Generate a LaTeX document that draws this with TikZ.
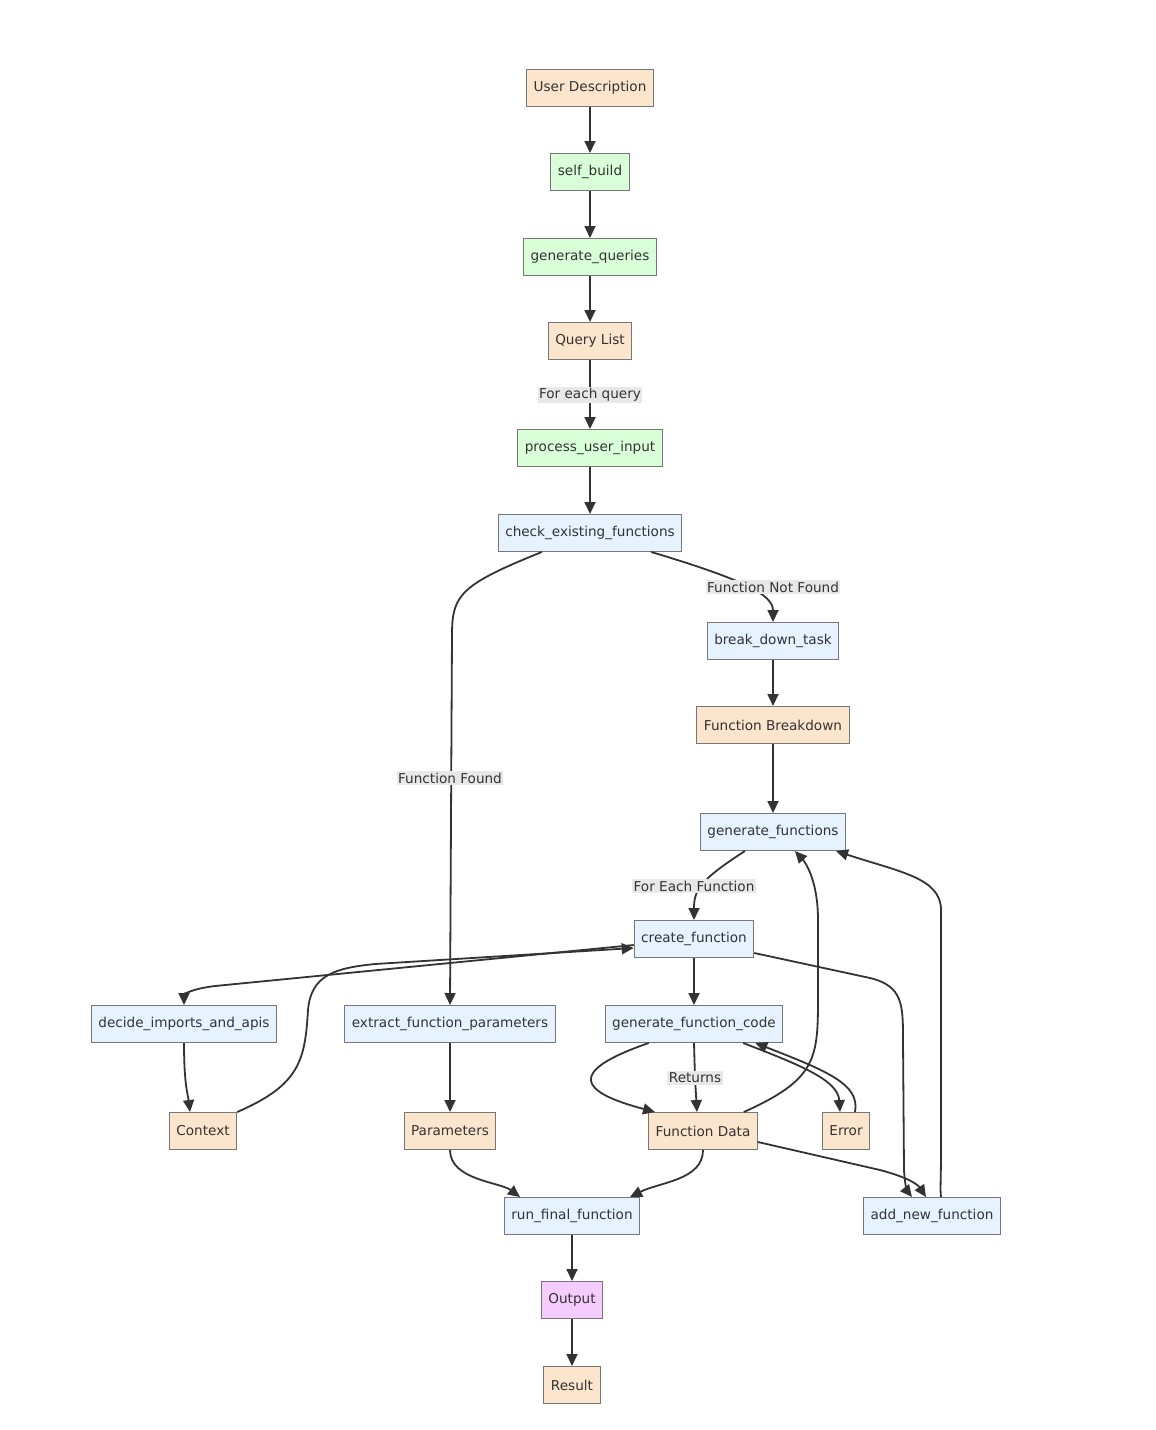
\documentclass[tikz,border=0pt]{standalone}
\usepackage{fontspec}
\setmainfont{DejaVu Sans}
\usetikzlibrary{arrows.meta}
\definecolor{peachfill}{HTML}{FCE5CD}
\definecolor{greenfill}{HTML}{D9FFD9}
\definecolor{bluefill}{HTML}{E6F2FF}
\definecolor{pinkfill}{HTML}{F6CCFF}
\definecolor{boxline}{HTML}{777777}
\definecolor{edgeline}{HTML}{333333}
\definecolor{labelfill}{HTML}{E8E8E8}
\tikzset{
  box/.style={draw=boxline, line width=1pt, rectangle, minimum height=37pt,
    inner xsep=7pt, text=edgeline, font=\fontsize{13.6}{16}\selectfont},
  peach/.style={box, fill=peachfill},
  green/.style={box, fill=greenfill},
  blue/.style={box, fill=bluefill},
  pink/.style={box, fill=pinkfill},
  edgelabel/.style={fill=labelfill, inner sep=1.5pt, text=edgeline,
    font=\fontsize{13.6}{16}\selectfont},
  arr/.style={draw=edgeline, line width=1.8pt,
    -{Triangle[length=12pt,width=11pt]}},
}
\begin{document}
\begin{tikzpicture}[x=1pt, y=1pt]
  \useasboundingbox (0,0) rectangle (1156,-1430);
  % top chain
  \node[peach] (ud) at (590,-88) {User Description};
  \node[green] (sb) at (590,-172) {self\_build};
  \node[green] (gq) at (590,-257) {generate\_queries};
  \node[peach] (ql) at (590,-341) {Query List};
  \node[green] (pui) at (590,-448) {process\_user\_input};
  \node[blue] (cef) at (590,-533) {check\_existing\_functions};
  % function not found branch
  \node[blue] (bdt) at (773,-641) {break\_down\_task};
  \node[peach] (fb) at (773,-725) {Function Breakdown};
  \node[blue] (gf) at (773,-832) {generate\_functions};
  \node[blue] (cf) at (694,-939) {create\_function};
  \node[blue] (dia) at (184,-1024) {decide\_imports\_and\_apis};
  \node[blue] (efp) at (450,-1024) {extract\_function\_parameters};
  \node[blue] (gfc) at (694,-1024) {generate\_function\_code};
  \node[peach] (ctx) at (203,-1131) {Context};
  \node[peach] (par) at (450,-1131) {Parameters};
  \node[peach] (fd) at (703,-1131) {Function Data};
  \node[peach] (err) at (846,-1131) {Error};
  \node[blue] (rff) at (572,-1216) {run\_final\_function};
  \node[blue] (anf) at (932,-1216) {add\_new\_function};
  \node[pink] (out) at (572,-1300) {Output};
  \node[peach] (res) at (572,-1385) {Result};
  \coordinate (ret) at (695,-1078);

  \draw[arr] (ud) -- (sb);
  \draw[arr] (sb) -- (gq);
  \draw[arr] (gq) -- (ql);
  \draw[arr] (ql) -- (pui);
  \draw[arr] (pui) -- (cef);
  \draw[arr] (cef.south west) ++(44,0) .. controls (460,-585) and (452,-595) .. (452,-635) -- (efp.north -| 450,0);
  \draw[arr] (cef.south east) ++(-31,0) .. controls (745,-580) and (773,-595) .. (bdt.north);
  \draw[arr] (bdt) -- (fb);
  \draw[arr] (fb) -- (gf);
  \draw[arr] (gf.south west) ++(45,0) .. controls (700,-880) and (694,-890) .. (cf.north);
  \draw[arr] (cf) -- (gfc);
  \draw[arr] (cf.west) ++(0,-6) -- (215,-986) .. controls (190,-989) and (184,-995) .. (dia.north);
  \draw[arr] (ctx.north east) .. controls (300,-1085) and (305,-1060) .. (308,-1010)
    .. controls (311,-975) and (335,-968) .. (375,-964) -- ([yshift=-9pt]cf.west);
  \draw[arr] (cf.east) ++(0,-14) -- (870,-978) .. controls (903,-986) and (903,-1005) .. (903,-1040)
    -- (904,-1170) .. controls (905,-1188) and (908,-1192) .. ([xshift=-20pt]anf.north);
  \draw[arr] (dia.south) .. controls (184,-1085) and (188,-1095) .. ([xshift=-13pt]ctx.north);
  \draw[arr] (efp) -- (par);
  \draw[arr] (gfc.south west) ++(44,0) .. controls (565,-1072) and (580,-1092) .. ([xshift=-48pt]fd.north);
  \draw[arr] (gfc.south) -- (ret) -- ([xshift=-6pt]fd.north);
  \draw[arr] (gfc.south east) ++(-40,0) .. controls (800,-1065) and (838,-1080) .. ([xshift=-6pt]err.north);
  \draw[arr] ([xshift=9pt]err.north) .. controls (860,-1085) and (830,-1072) .. ([xshift=-28pt]gfc.south east);
  \draw[arr] (fd.north east) ++(-14,0) .. controls (815,-1080) and (818,-1060) .. (818,-1000)
    -- (818,-920) .. controls (818,-880) and (805,-862) .. ([xshift=22pt]gf.south);
  \draw[arr] (fd.east) ++(0,-11) -- (880,-1170) .. controls (910,-1178) and (918,-1185) .. ([xshift=-6pt]anf.north);
  \draw[arr] ([xshift=9pt]anf.north) .. controls (940,-1190) and (941,-1180) .. (941,-1150) -- (941,-910)
    .. controls (941,-878) and (900,-872) .. ([xshift=-10pt]gf.south east);
  \draw[arr] (par.south) .. controls (450,-1180) and (500,-1182) .. ([xshift=-52pt]rff.north);
  \draw[arr] (fd.south) .. controls (703,-1180) and (660,-1182) .. ([xshift=58pt]rff.north);
  \draw[arr] (rff) -- (out);
  \draw[arr] (out) -- (res);
  % edge labels on top of the lines
  \node[edgelabel] (lq) at (590,-395) {For each query};
  \node[edgelabel] (lff) at (450,-778) {Function Found};
  \node[edgelabel] (lnf) at (773,-587) {Function Not Found};
  \node[edgelabel] (lef) at (694,-886) {For Each Function};
  \node[edgelabel] (lret) at (ret) {Returns};
\end{tikzpicture}
\end{document}
